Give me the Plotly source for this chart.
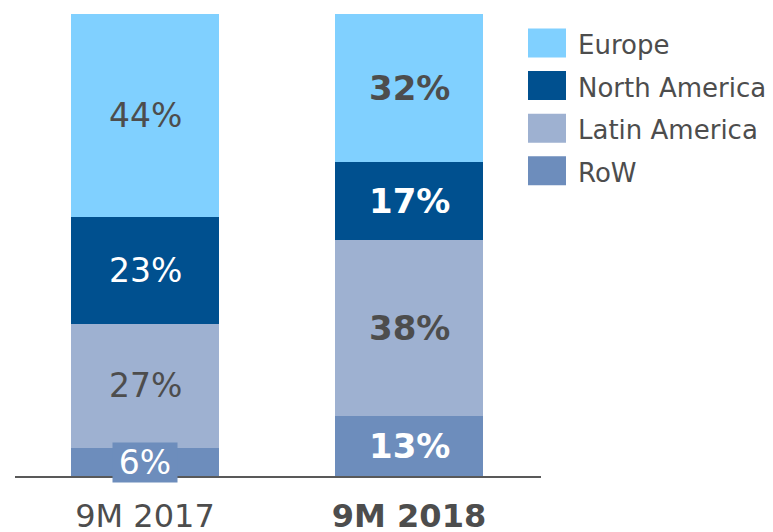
import plotly.graph_objects as go

categories = ["9M 2017", "9M 2018"]
tick_labels = ["9M 2017", "<b>9M 2018</b>"]
series_names = ["RoW", "Latin America", "North America", "Europe"]
row_vals = [6, 13]
latam_vals = [27, 38]
na_vals = [23, 17]
europe_vals = [44, 32]
colors = {"Europe": "#80D0FF", "North America": "#00508F",
          "Latin America": "#9EB1D1", "RoW": "#6D8DBC"}
label_colors = {"Europe": "#4D4D4D", "North America": "#FFFFFF",
                "Latin America": "#4D4D4D", "RoW": "#FFFFFF"}

series = {"RoW": row_vals, "Latin America": latam_vals,
          "North America": na_vals, "Europe": europe_vals}

FONT = "DejaVu Sans, Verdana, sans-serif"
W, H = 773, 532
ML, MR, MT, MB = 15, 232, 14, 56
PW, PH = W - ML - MR, H - MT - MB

fig = go.Figure()
for name in series_names:
    fig.add_trace(go.Bar(x=list(range(len(categories))), y=series[name], name=name,
                         marker=dict(color=colors[name], line=dict(width=0)),
                         width=0.56, showlegend=False, hoverinfo="skip"))

annotations = []
cum = [0] * len(categories)
for name in series_names:
    vals = series[name]
    for i, v in enumerate(vals):
        mid = cum[i] + v / 2
        txt = f"{v}%"
        size = 33
        if i == 1:
            txt = f"<b>{txt}</b>"
            size = 34
        ann = dict(x=i, y=mid, xref="x", yref="y", text=txt, showarrow=False,
                   font=dict(family=FONT, size=size, color=label_colors[name]),
                   xanchor="center", yanchor="middle")
        if name == "RoW" and i == 0:
            ann.update(bgcolor=colors["RoW"], borderpad=0, width=64, height=39)
        annotations.append(ann)
        cum[i] += v

# manual legend
legend_order = ["Europe", "North America", "Latin America", "RoW"]
shapes = []
for k, name in enumerate(legend_order):
    cy = 43 + k * 42.6
    x0p, x1p = 528, 566
    y0p, y1p = cy - 14.5, cy + 14.5
    shapes.append(dict(type="rect", xref="paper", yref="paper",
                       x0=(x0p - ML) / PW, x1=(x1p - ML) / PW,
                       y0=(MT + PH - y1p) / PH, y1=(MT + PH - y0p) / PH,
                       fillcolor=colors[name], line=dict(width=0)))
    annotations.append(dict(x=(576 - ML) / PW, y=(MT + PH - (cy + 2)) / PH,
                            xref="paper", yref="paper", text=name, showarrow=False,
                            xanchor="left", yanchor="middle",
                            font=dict(family=FONT, size=26, color="#4D4D4D")))

fig.update_layout(
    barmode="stack", width=W, height=H, autosize=False,
    margin=dict(l=ML, r=MR, t=MT, b=MB),
    plot_bgcolor="white", paper_bgcolor="white",
    bargap=0, annotations=annotations, shapes=shapes,
    xaxis=dict(range=[-0.4924, 1.5], tickvals=list(range(len(categories))),
               ticktext=tick_labels, showline=True, linecolor="#595959", linewidth=1.5,
               showgrid=False, zeroline=False, ticks="", ticklabelstandoff=11,
               automargin=False,
               tickfont=dict(family=FONT, size=32, color="#4D4D4D")),
    yaxis=dict(range=[0, 100], visible=False, showgrid=False, zeroline=False,
               automargin=False),
)

post = "document.body.style.margin='0';document.body.style.overflow='hidden';"
fig.write_html("out.html", post_script=post, config={"displayModeBar": False})
